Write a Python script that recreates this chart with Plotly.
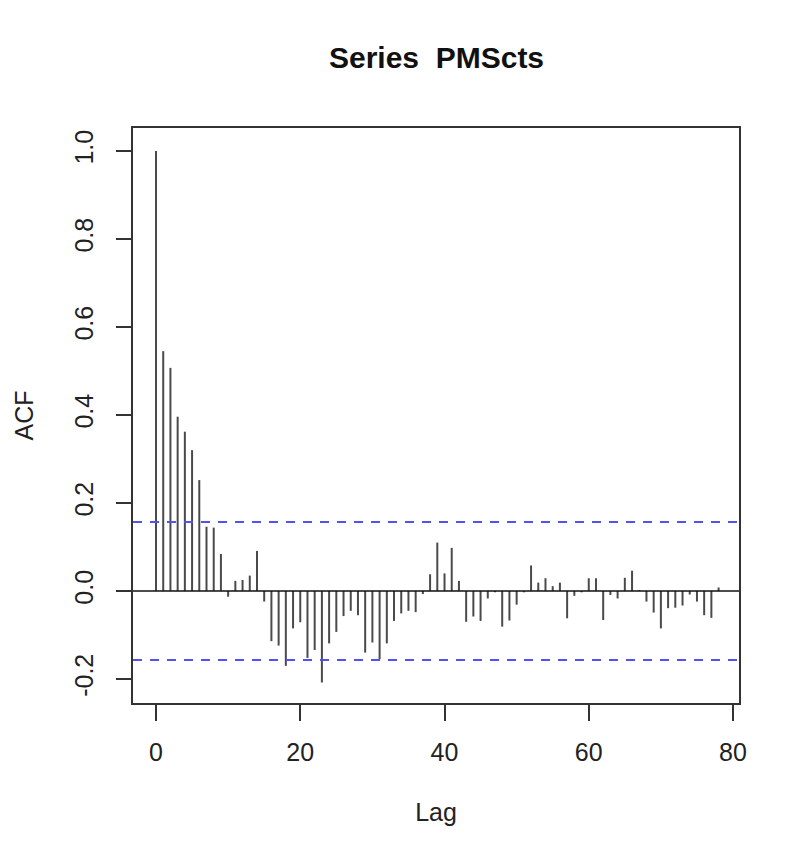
import plotly.graph_objects as go

lags = list(range(0, 79))
acf_values = [
    1.000, 0.545, 0.507, 0.396, 0.362, 0.320, 0.252, 0.146, 0.144, 0.084,
    -0.013, 0.023, 0.025, 0.035, 0.091, -0.024, -0.114, -0.124, -0.170, -0.085,
    -0.071, -0.152, -0.134, -0.208, -0.119, -0.093, -0.057, -0.045, -0.055, -0.140,
    -0.117, -0.155, -0.119, -0.068, -0.051, -0.045, -0.048, -0.007, 0.038, 0.110,
    0.040, 0.098, 0.023, -0.070, -0.058, -0.068, -0.017, -0.003, -0.081, -0.067,
    -0.031, -0.003, 0.058, 0.019, 0.029, 0.011, 0.019, -0.062, -0.011, -0.003,
    0.029, 0.029, -0.066, -0.009, -0.017, 0.030, 0.046, 0.002, -0.024, -0.049,
    -0.085, -0.039, -0.038, -0.033, -0.008, -0.024, -0.055, -0.061, 0.008,
]
conf_limit = 0.157
x_ticks = [0, 20, 40, 60, 80]
y_ticks = [-0.2, 0.0, 0.2, 0.4, 0.6, 0.8, 1.0]

xs, ys = [], []
for lag, v in zip(lags, acf_values):
    xs += [lag, lag, None]
    ys += [0, v, None]

fig = go.Figure()
fig.add_trace(go.Scatter(x=xs, y=ys, mode="lines",
                         line=dict(color="#4a4a4a", width=2), hoverinfo="skip",
                         showlegend=False))

fig.add_shape(type="line", xref="paper", x0=0, x1=1, yref="y", y0=0, y1=0,
              line=dict(color="#111111", width=1.5))
for c in (conf_limit, -conf_limit):
    fig.add_shape(type="line", xref="paper", x0=0, x1=1, yref="y", y0=c, y1=c,
                  line=dict(color="#5252ee", width=2, dash="9px,8px"))

font_family = "Liberation Sans, Arial, sans-serif"
fig.update_layout(
    width=788, height=852,
    margin=dict(l=125, r=57, t=120, b=157),
    paper_bgcolor="white", plot_bgcolor="white",
    font=dict(family=font_family, size=25, color="#222222"),
    title=dict(text="Series\u00a0\u00a0PMScts", x=428.5/788, xanchor="center",
               y=1 - 49.5/852, yanchor="middle",
               font=dict(family=font_family, size=30, color="#111111", weight="bold")),
    showlegend=False,
)
fig.update_xaxes(
    range=[-3.19, 80.83], tickvals=x_ticks, ticktext=[str(t) for t in x_ticks],
    showgrid=False, zeroline=False, showline=True, mirror=True,
    linecolor="#333333", linewidth=1.5, ticks="outside", ticklen=16,
    tickcolor="#333333", tickwidth=1.5, ticklabelstandoff=10,
    tickfont=dict(size=25, color="#222222"), automargin=False,
    title=dict(text="Lag", font=dict(size=25, color="#222222"), standoff=39),
)
fig.update_yaxes(
    range=[-0.2545, 1.052], tickvals=y_ticks,
    ticktext=[f"{t:.1f}" for t in y_ticks],
    showgrid=False, zeroline=False, showline=True, mirror=True,
    linecolor="#333333", linewidth=1.5, ticks="outside", ticklen=15,
    tickcolor="#333333", tickwidth=1.5, tickangle=-90, ticklabelstandoff=13,
    tickfont=dict(size=25, color="#222222"), automargin=False,
    title=dict(text="ACF", font=dict(size=25, color="#222222"), standoff=30),
)

fig.write_html("out.html")
